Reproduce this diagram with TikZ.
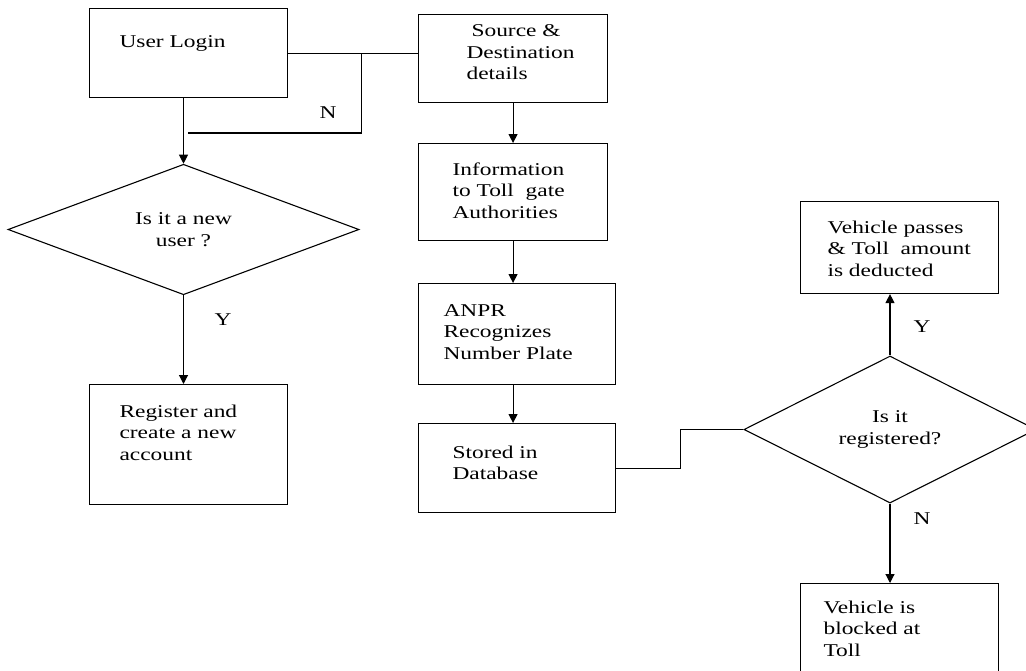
\documentclass[tikz,border=0pt]{standalone}
\usepackage{fontspec}
\setmainfont{Liberation Serif}[FakeStretch = 1.3]
\usepackage{tikz}
\usetikzlibrary{shapes}
\usetikzlibrary{shapes.geometric}
\usetikzlibrary{arrows.meta}
\begin{document}
\begin{tikzpicture}[x = 1pt, y = -1pt, line width = 1.1pt,
  box/.style = {draw, rectangle, anchor = north west, inner sep = 0},
  txt/.style = {anchor = north west, inner sep = 0, align = left, font = \fontsize{18}{21.5}\selectfont},
  ask/.style = {draw, diamond, inner sep = 0, align = center, font = \fontsize{18}{21.5}\selectfont},
  flow/.style = {-{Triangle[length = 9pt, width = 9pt]}},
  yn/.style = {font = \fontsize{18}{21.5}\selectfont}]
 \useasboundingbox (0, 0) rectangle (1026, 670);
 \clip (0, 0) rectangle (1026, 670);
  \node[box, minimum width = 198, minimum height = 89] (login) at (89, 8) {};
  \node[box, minimum width = 189, minimum height = 88] (source) at (418, 14) {};
  \node[box, minimum width = 189, minimum height = 97] (info) at (418, 143) {};
  \node[box, minimum width = 197, minimum height = 101] (anpr) at (418, 283) {};
  \node[box, minimum width = 197, minimum height = 89] (stored) at (418, 423) {};
  \node[box, minimum width = 198, minimum height = 120] (register) at (89, 384) {};
  \node[box, minimum width = 198, minimum height = 92] (passes) at (800, 201) {};
  \node[box, minimum width = 198, minimum height = 110] (blocked) at (800, 583) {};
  \node[ask, minimum width = 351, minimum height = 127] (q1) at (183.5, 229.5) {Is it a new\\user ?};
  \node[ask, minimum width = 292, minimum height = 147] (q2) at (890, 429.5) {Is it\\registered?};
  \node[txt] (loginT) at (119, 35) {User Login};
  \node[txt] (sourceT) at (466, 24) {\hspace*{5pt}Source \&\\Destination\\details};
  \node[txt] (infoT) at (452, 162) {Information\\to Toll~~gate\\Authorities};
  \node[txt] (anprT) at (443, 304) {ANPR\\Recognizes\\Number Plate};
  \node[txt] (storedT) at (452, 445) {Stored in\\Database};
  \node[txt] (registerT) at (119, 404) {Register and\\create a new\\account};
  \node[txt] (passesT) at (827, 220) {Vehicle passes\\\& Toll~~amount\\is deducted};
  \node[txt] (blockedT) at (823, 600) {Vehicle is\\blocked at\\Toll};
  \draw (login.east) -- (login.east -| source.west);
  \path (login.east) ++(73, 0) coordinate (nfork);
  \coordinate (nend) at (188, 133);
  \draw (nfork) |- (nend);
  \node[yn] (nlbl) at (328, 113) {N};
  \draw[flow] (login.south -| q1.north) -- (q1.north);
  \draw[flow] (q1.south) -- (q1.south |- register.north);
  \node[yn] (ylbl) at (223, 320) {Y};
  \draw[flow] (source.south) -- (info.north);
  \draw[flow] (info.south) -- (info.south |- anpr.north);
  \draw[flow] (anpr.south -| info.south) -- (info.south |- stored.north);
  \draw (stored.east) -- ++(64, 0) |- (q2.west);
  \draw[flow] (q2.north) -- (q2.north |- passes.south);
  \node[yn] (y2lbl) at (922, 327) {Y};
  \draw[flow] (q2.south) -- (q2.south |- blocked.north);
  \node[yn] (n2lbl) at (922, 519) {N};
 \end{tikzpicture}
\end{document}
